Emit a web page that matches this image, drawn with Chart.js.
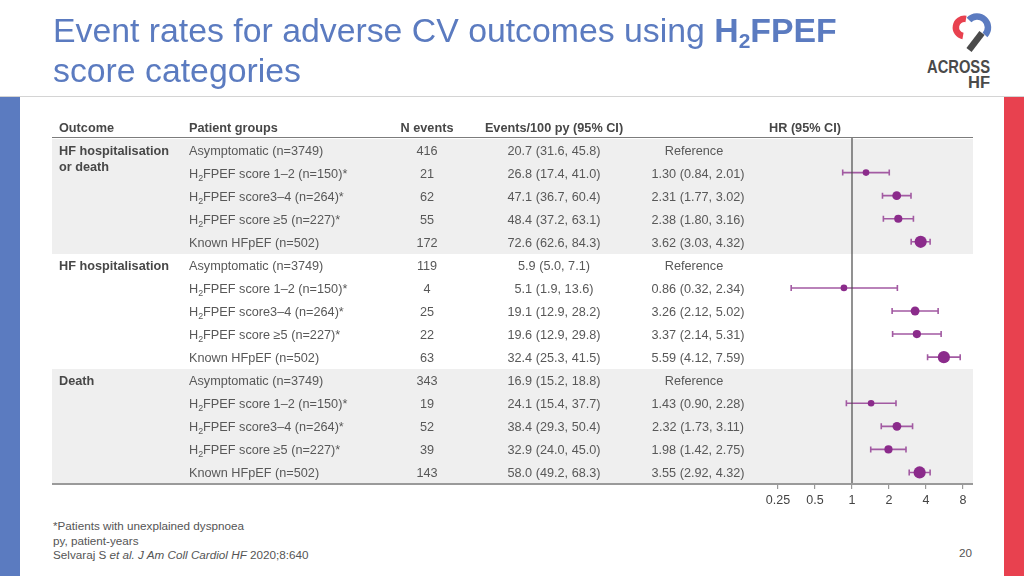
<!DOCTYPE html>
<html>
<head>
<meta charset="utf-8">
<script src="https://cdn.jsdelivr.net/npm/chart.js@4.4.1/dist/chart.umd.min.js"></script>
<style>
  html,body{margin:0;padding:0;background:#fff;}
  body{width:1024px;height:576px;position:relative;overflow:hidden;font-family:"Liberation Sans",Arial,Helvetica,sans-serif;}
  .abs{position:absolute;}
  #title{position:absolute;left:53px;top:10px;font-size:33.8px;line-height:40px;color:#5b7bc0;white-space:nowrap;z-index:2;}
  #title b{font-weight:bold;}
  #title .sub{font-size:0.62em;position:relative;top:0.28em;line-height:0;}
  .cell{position:absolute;font-size:12.7px;line-height:16px;height:16px;color:#585858;white-space:nowrap;}
  .hdr{font-weight:bold;color:#474747;}
  .ctr{transform:translateX(-50%);}
  .sub2{font-size:0.7em;position:relative;top:0.3em;line-height:0;}
  .foot{position:absolute;left:53px;font-size:11.7px;line-height:14.5px;color:#555;white-space:nowrap;}
  #chart{position:absolute;left:0;top:0;z-index:1;}
  #txt{position:absolute;left:0;top:0;width:1024px;height:576px;z-index:2;}
</style>
</head>
<body>
<div class="abs" style="left:0;top:96px;width:1024px;height:1px;background:#d4d4d4"></div>
<div class="abs" style="left:0;top:97px;width:20px;height:479px;background:#5b7bc0"></div>
<div class="abs" style="left:1004px;top:97px;width:20px;height:479px;background:#e8414f"></div>
<div id="title">Event rates for adverse CV outcomes using <b>H<span class="sub">2</span>FPEF</b><br>score categories</div>
<svg class="abs" style="left:0;top:0" width="1024" height="100">
  <path d="M 966 19 A 8 8 0 1 0 963 36" fill="none" stroke="#e8414f" stroke-width="6.5"/>
  <path d="M 969 20 A 10 10 0 1 1 985 35" fill="none" stroke="#5b7bc0" stroke-width="6.5"/>
  <line x1="982" y1="33" x2="969" y2="50" stroke="#4a4a4a" stroke-width="6.5"/>
  <text x="927" y="73" font-family="Liberation Sans, Arial, sans-serif" font-weight="bold" font-size="18" fill="#4a4a4a" textLength="63" lengthAdjust="spacingAndGlyphs">ACROSS</text>
  <text x="968" y="87.5" font-family="Liberation Sans, Arial, sans-serif" font-weight="bold" font-size="16" fill="#4a4a4a" textLength="22" lengthAdjust="spacingAndGlyphs">HF</text>
</svg>
<div id="bands"></div>
<canvas id="chart" width="1024" height="576"></canvas>
<div id="txt"></div>
<div class="foot" style="top:519px">*Patients with unexplained dyspnoea</div>
<div class="foot" style="top:534px">py, patient-years</div>
<div class="foot" style="top:548px">Selvaraj S <i>et al. J Am Coll Cardiol HF</i> 2020;8:640</div>
<div class="foot" style="left:959px;top:546px">20</div>
<script>
// ---------------- DATA ----------------
const outcomeLabels = [["HF hospitalisation","or death"],["HF hospitalisation"],["Death"]];
const patientGroups = ["Asymptomatic (n=3749)","H2FPEF score 1–2 (n=150)*","H2FPEF score3–4 (n=264)*","H2FPEF score ≥5 (n=227)*","Known HFpEF (n=502)"];
const groupN = [3749,150,264,227,502];
const nEvents = [416,21,62,55,172, 119,4,25,22,63, 343,19,52,39,143];
const eventRate   = [20.7,26.8,47.1,48.4,72.6, 5.9,5.1,19.1,19.6,32.4, 16.9,24.1,38.4,32.9,58.0];
const eventRateLo = [31.6,17.4,36.7,37.2,62.6, 5.0,1.9,12.9,12.9,25.3, 15.2,15.4,29.3,24.0,49.2];
const eventRateHi = [45.8,41.0,60.4,63.1,84.3, 7.1,13.6,28.2,29.8,41.5, 18.8,37.7,50.4,45.0,68.3];
const hr   = [null,1.30,2.31,2.38,3.62, null,0.86,3.26,3.37,5.59, null,1.43,2.32,1.98,3.55];
const hrLo = [null,0.84,1.77,1.80,3.03, null,0.32,2.12,2.14,4.12, null,0.90,1.73,1.42,2.92];
const hrHi = [null,2.01,3.02,3.16,4.32, null,2.34,5.02,5.31,7.59, null,2.28,3.11,2.75,4.32];
const referenceHR = 1;
const hrTicks = [0.25,0.5,1,2,4,8];
const headers = ["Outcome","Patient groups","N events","Events/100 py (95% CI)","HR (95% CI)"];

// ---------------- LAYOUT ----------------
const ROW0 = 150, ROWH = 23, TL = 52, TR = 973, HEAD_Y = 127, LINE_TOP = 138, LINE_BOT = 484;
const nRows = nEvents.length, perGroup = patientGroups.length;
const fmtGroup = s => s.replace("H2FPEF", 'H<span class="sub2">2</span>FPEF');

const bands = document.getElementById('bands');
const txt = document.getElementById('txt');
function addDiv(parent, style, html, cls){
  const d=document.createElement('div'); d.className=cls||'abs'; d.setAttribute('style',style); d.innerHTML=html; parent.appendChild(d); return d;
}
outcomeLabels.forEach((o,k)=>{
  if(k%2===0){
    const top = ROW0 + ROWH*k*perGroup - ROWH/2;
    addDiv(bands, `left:${TL}px;top:${top}px;width:${TR-TL}px;height:${ROWH*perGroup}px;background:#efefef`, '');
  }
});
addDiv(bands, `left:${TL}px;top:${LINE_TOP-1}px;width:${TR-TL}px;height:1px;background:#7c7c7c`, '');
addDiv(bands, `left:${TL}px;top:${LINE_BOT-1}px;width:${TR-TL}px;height:2px;background:#9a9a9a;z-index:3`, '');

const TXT_OFF = 7;
const hx = [[59,0],[189,0],[427,1],[554,1],[805,1]];
headers.forEach((h,i)=>{
  addDiv(txt, `left:${hx[i][0]}px;top:${HEAD_Y-TXT_OFF}px`, h, 'cell hdr'+(hx[i][1]?' ctr':''));
});
outcomeLabels.forEach((o,k)=>{
  addDiv(txt, `left:59px;top:${ROW0 + ROWH*k*perGroup - TXT_OFF}px`, o.join('<br>'), 'cell hdr');
});
for(let i=0;i<nRows;i++){
  const y = ROW0 + ROWH*i - TXT_OFF;
  addDiv(txt, `left:189px;top:${y}px`, fmtGroup(patientGroups[i%perGroup]), 'cell');
  addDiv(txt, `left:427px;top:${y}px`, String(nEvents[i]), 'cell ctr');
  addDiv(txt, `left:554px;top:${y}px`, `${eventRate[i].toFixed(1)} (${eventRateLo[i].toFixed(1)}, ${eventRateHi[i].toFixed(1)})`, 'cell ctr');
  const hrText = hr[i]==null ? 'Reference' : `${hr[i].toFixed(2)} (${hrLo[i].toFixed(2)}, ${hrHi[i].toFixed(2)})`;
  addDiv(txt, `left:${hr[i]==null?694:698}px;top:${y}px`, hrText, 'cell ctr');
}

// ---------------- CHART ----------------
const PLOT_L = 770, PLOT_R = 973, PX_PER_DOUBLING = 37, ONE_X = 852;
const xMin = Math.pow(2,(PLOT_L-ONE_X)/PX_PER_DOUBLING);
const xMax = Math.pow(2,(PLOT_R-ONE_X)/PX_PER_DOUBLING);

const points = [], radii = [];
hr.forEach((v,i)=>{ if(v!=null){ points.push({x:v,y:i}); radii.push(0.272*Math.sqrt(groupN[i%perGroup])); }});

const whiskerPlugin = {
  id:'whiskers',
  beforeDatasetsDraw(chart){
    const {ctx, scales:{x,y}} = chart;
    ctx.save();
    ctx.strokeStyle = '#a25aa2';
    ctx.lineWidth = 1.6;
    hr.forEach((v,i)=>{
      if(v==null) return;
      const x1 = x.getPixelForValue(hrLo[i]), x2 = x.getPixelForValue(hrHi[i]), yy = y.getPixelForValue(i);
      ctx.beginPath();
      ctx.moveTo(x1,yy); ctx.lineTo(x2,yy);
      ctx.moveTo(x1,yy-3); ctx.lineTo(x1,yy+3);
      ctx.moveTo(x2,yy-3); ctx.lineTo(x2,yy+3);
      ctx.stroke();
    });
    ctx.restore();
  }
};

new Chart(document.getElementById('chart'), {
  type:'scatter',
  data:{ datasets:[
    { type:'line', data:[{x:referenceHR,y:-0.5},{x:referenceHR,y:nRows-0.5}], borderColor:'#4a4a4a', borderWidth:1.2, pointRadius:0, order:2 },
    { data:points, backgroundColor:'#8b2b8b', borderWidth:0, pointRadius:ctx=>radii[ctx.dataIndex], pointHoverRadius:ctx=>radii[ctx.dataIndex], order:0 }
  ]},
  options:{
    responsive:false, animation:false, devicePixelRatio:1,
    layout:{padding:{left:PLOT_L, right:1024-PLOT_R, top:LINE_TOP, bottom:576-LINE_BOT-28}},
    scales:{
      x:{ type:'logarithmic', min:xMin, max:xMax,
          afterBuildTicks:s=>{ s.ticks = hrTicks.map(v=>({value:v})); },
          afterFit:s=>{ s.height = 28; },
          ticks:{ callback:v=>String(v), color:'#444', font:{family:'"Liberation Sans", Arial, sans-serif', size:12.5}, padding:4, maxRotation:0, autoSkip:false },
          grid:{ drawOnChartArea:false, drawTicks:true, tickLength:5, color:'#999', lineWidth:1.2 },
          border:{ display:false } },
      y:{ type:'linear', display:false, reverse:true, min:-0.5, max:nRows-0.5 }
    },
    plugins:{ legend:{display:false}, tooltip:{enabled:false} }
  },
  plugins:[whiskerPlugin]
});
</script>
</body>
</html>
